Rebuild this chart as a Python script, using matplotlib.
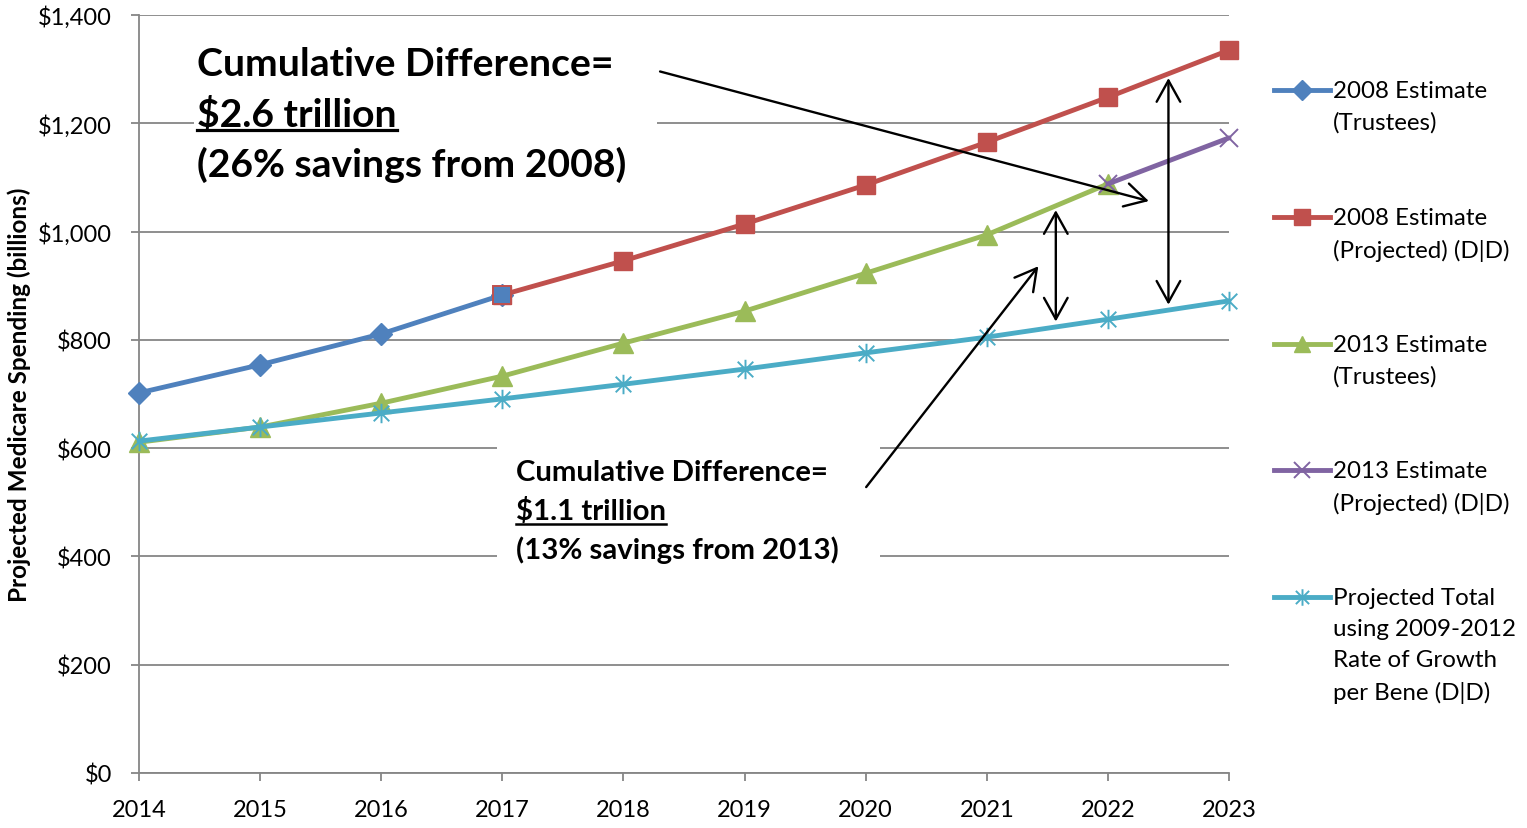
import matplotlib.pyplot as plt
from matplotlib.lines import Line2D
from matplotlib.patches import Rectangle
from matplotlib.path import Path
import numpy as np

plt.rcParams['font.family'] = ['Lato', 'DejaVu Sans']

years = np.arange(2014, 2024)

est2008_trustees = [702, 754, 811, 883]                              # 2014-2017
est2008_projected = [883, 946, 1014, 1086, 1165, 1248, 1335]         # 2017-2023
est2013_trustees = [611, 639, 683, 733, 794, 853, 923, 994, 1088]    # 2014-2022
est2013_projected = [1088, 1173]                                     # 2022-2023
projected_total = [613, 639, 665, 691, 718, 746, 776, 805, 838, 872]  # 2014-2023

labels = ['2008 Estimate\n(Trustees)',
          '2008 Estimate\n(Projected) (D|D)',
          '2013 Estimate\n(Trustees)',
          '2013 Estimate\n(Projected) (D|D)',
          'Projected Total\nusing 2009-2012\nRate of Growth\nper Bene (D|D)']

blue, red, green, purple, cyan = '#4F81BD', '#C0504D', '#9BBB59', '#8064A2', '#4BACC6'
grid_gray = '#868686'

# Excel-style star: vertical bar with an X through it
star = Path([(0, -1), (0, 1), (-0.8, -0.8), (0.8, 0.8), (-0.8, 0.8), (0.8, -0.8)],
            [Path.MOVETO, Path.LINETO, Path.MOVETO, Path.LINETO, Path.MOVETO, Path.LINETO])

W, H = 1527, 829
fig = plt.figure(figsize=(W / 100, H / 100), dpi=100)
ax = fig.add_axes([139 / W, 1 - 774 / H, (1229 - 139) / W, (774 - 16) / H])

LW = 3.5
series = [
    (years[:4], est2008_trustees, blue, dict(marker='D', markersize=11.5)),
    (years[3:], est2008_projected, red, dict(marker='s', markersize=13.5)),
    (years[:9], est2013_trustees, green, dict(marker='^', markersize=14)),
    (years[8:], est2013_projected, purple, dict(marker='x', markersize=13, markeredgewidth=1.4)),
    (years, projected_total, cyan, dict(marker=star, markersize=14, markeredgewidth=1.4)),
]
handles = []
for i, (x, y, c, mk) in enumerate(series):
    ln, = ax.plot(x, y, color=c, lw=LW, markerfacecolor=c, markeredgecolor=c,
                  zorder=3 + i, solid_capstyle='round', clip_on=False, **mk)
    handles.append(ln)
    if i == 1:
        # first point of the projected 2008 series keeps the blue fill
        ax.plot(x[:1], y[:1], marker='s', markersize=13.5, markerfacecolor=blue,
                markeredgecolor=red, markeredgewidth=1.4, lw=0, zorder=4.5)

ax.set_xlim(2014, 2023)
ax.set_ylim(0, 1400)
ax.set_xticks(years)
ax.set_yticks(np.arange(0, 1401, 200))
ax.set_yticklabels(['${:,}'.format(v) for v in range(0, 1401, 200)])
ax.tick_params(axis='both', labelsize=17, color=grid_gray, width=1.3, length=5.5, direction='out')
ax.tick_params(axis='y', pad=14)
ax.tick_params(axis='x', pad=13)
ax.set_axisbelow(True)
ax.grid(axis='y', color=grid_gray, lw=1.3)
for s in ['top', 'right']:
    ax.spines[s].set_visible(False)
for s in ['left', 'bottom']:
    ax.spines[s].set_color(grid_gray)
    ax.spines[s].set_linewidth(1.3)
ax.set_ylabel('Projected Medicare Spending (billions)', fontsize=17.5, fontweight='bold', labelpad=5)
ax.margins(0)


def px(x, y):
    return x / W, 1 - y / H


# white boxes behind the callouts
for (x0, y0, x1, y1) in [(194, 30, 657, 195), (497, 442, 880, 568)]:
    fx0, fy1 = px(x0, y0)
    fx1, fy0 = px(x1, y1)
    ax.add_patch(Rectangle((fx0, fy0), fx1 - fx0, fy1 - fy0, transform=fig.transFigure,
                           facecolor='white', edgecolor='none', zorder=1))


def callout(x, ys, lines, size):
    texts = []
    for yy, s in zip(ys, lines):
        texts.append(fig.text(*px(x, yy), s, fontsize=size, fontweight='bold',
                              va='center', ha='left', zorder=10))
    return texts


big = callout(197, [65, 115, 165],
              ['Cumulative Difference=', '$2.6 trillion', '(26% savings from 2008)'], 28.2)
small = callout(516, [473, 512, 550],
                ['Cumulative Difference=', '$1.1 trillion', '(13% savings from 2013)'], 21.2)

fig.canvas.draw()
rend = fig.canvas.get_renderer()
inv = fig.transFigure.inverted()
for t, off, lw in [(big[1], 2, 2.3), (small[1], 1, 1.8)]:
    bb = t.get_window_extent(rend)
    (ux0, uy), (ux1, _) = inv.transform([(bb.x0, bb.y0 + off), (bb.x1, bb.y0 + off)])
    fig.add_artist(Line2D([ux0, ux1], [uy, uy], color='black', lw=lw, transform=fig.transFigure))

head = '->,head_length=0.45,head_width=0.25'
arrow = dict(arrowstyle=head, color='black', lw=1.7, mutation_scale=34)
ax.annotate('', xy=(2022.36, 1055), xytext=(2018.28, 1297),
            arrowprops=arrow, annotation_clip=False, zorder=12)
ax.annotate('', xy=(2021.44, 940), xytext=(2019.99, 524),
            arrowprops=arrow, annotation_clip=False, zorder=12)

# vertical gap arrows between the curves
red_full = np.concatenate([est2008_trustees, est2008_projected[1:]])
green_full = np.concatenate([est2013_trustees, est2013_projected[1:]])
dbl = dict(arrowstyle='<' + head, color='black', lw=1.7, mutation_scale=34,
           shrinkA=0, shrinkB=0)
for xa, top in [(2021.57, green_full), (2022.5, red_full)]:
    ax.annotate('', xy=(xa, np.interp(xa, years, top) - 8),
                xytext=(xa, np.interp(xa, years, projected_total) + 10),
                arrowprops=dbl, zorder=12)

# legend drawn entry by entry so the handle sits on the first text line
entry_y = [91, 218, 345, 471, 598]
for h, lab, yy in zip(handles, labels, entry_y):
    hx0, hy = px(1274, yy)
    hx1, _ = px(1330, yy)
    hm, _ = px(1302, yy)
    fig.add_artist(Line2D([hx0, hx1], [hy, hy], color=h.get_color(), lw=LW,
                          transform=fig.transFigure))
    fig.add_artist(Line2D([hm], [hy], marker=h.get_marker(), markersize=h.get_markersize() * 0.85,
                          markerfacecolor=h.get_color(), markeredgecolor=h.get_color(),
                          markeredgewidth=h.get_markeredgewidth(), lw=0,
                          transform=fig.transFigure))
    fig.text(1333 / W, 1 - (yy - 10) / H, lab, fontsize=17.4, va='top', ha='left',
             linespacing=1.6)

fig.savefig('out.png', dpi=100)
